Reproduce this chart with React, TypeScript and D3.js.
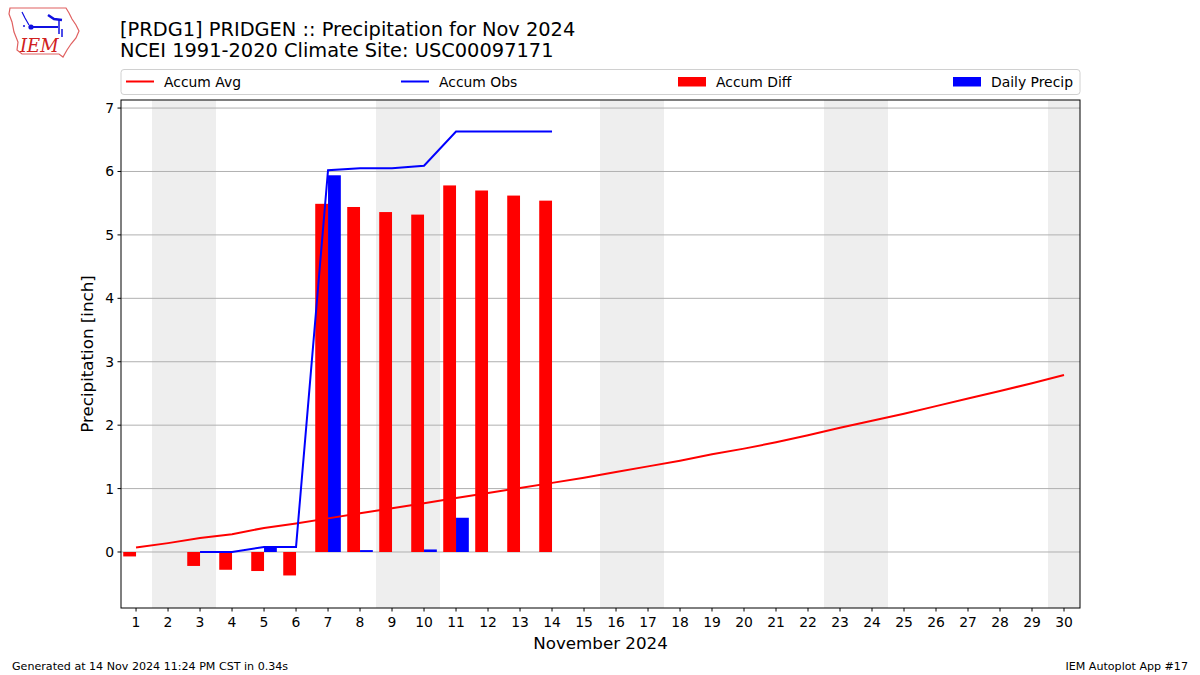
import React from "react";
import * as d3 from "d3";

const days: number[] = d3.range(1, 31);
const accumAvg: number[] = [0.07, 0.14, 0.22, 0.28, 0.38, 0.45, 0.53, 0.61, 0.69, 0.77, 0.85, 0.93, 1.01, 1.09, 1.17, 1.26, 1.35, 1.44, 1.54, 1.63, 1.73, 1.84, 1.96, 2.07, 2.18, 2.30, 2.42, 2.54, 2.66, 2.79];
const accumObs: (number | null)[] = [null, null, 0, 0, 0.08, 0.08, 6.02, 6.05, 6.05, 6.09, 6.63, 6.63, 6.63, 6.63];
const accumDiff: (number | null)[] = [-0.07, null, -0.22, -0.28, -0.30, -0.37, 5.49, 5.44, 5.36, 5.32, 5.78, 5.70, 5.62, 5.54];
const dailyPrecip: (number | null)[] = [null, null, 0, 0, 0.08, 0, 5.94, 0.03, 0, 0.04, 0.54, 0, 0, 0];
const weekendDays: number[] = [2, 3, 9, 10, 16, 17, 23, 24, 30];
const yTicks: number[] = [0, 1, 2, 3, 4, 5, 6, 7];

const W = 1200, H = 675;
const L = 121, R = 1080, T = 100, B = 608;
const FONT = "DejaVu Sans, sans-serif";

export default function App() {
  const x = d3.scaleLinear().domain([0.53, 30.5]).range([L, R]);
  const y = d3.scaleLinear().domain([-0.883, 7.127]).range([B, T]);
  const dayW = x(1) - x(0);
  const barW = dayW * 0.4;

  const avgLine = d3.line<number>().x((_, i) => x(days[i])).y((d) => y(d))(accumAvg) || "";
  const obsLine = d3
    .line<number | null>()
    .defined((d) => d !== null)
    .x((_, i) => x(days[i]))
    .y((d) => y(d as number))(accumObs) || "";

  const legendItems = [
    { label: "Accum Avg", kind: "line", color: "#ff0000", x0: 126 },
    { label: "Accum Obs", kind: "line", color: "#0000ff", x0: 401 },
    { label: "Accum Diff", kind: "rect", color: "#ff0000", x0: 678 },
    { label: "Daily Precip", kind: "rect", color: "#0000ff", x0: 953 },
  ];

  return (
    <svg width={W} height={H} style={{ position: "absolute", left: 0, top: 0, background: "#fff" }} fontFamily={FONT}>
      <rect x={0} y={0} width={W} height={H} fill="#fff" />
      {/* Logo */}
      <g>
        <path
          d="M10,8 L66,8 L69,13 L72,19 L76,25 L79,31 L76,38 L71,44 L67,50 L63,57 L59,54 L22,54 L17,50 L18,42 L14,32 L12,22 L9,14 Z"
          fill="none"
          stroke="#e06060"
          strokeWidth={1.2}
        />
        <line x1={31} y1={27} x2={58} y2={27} stroke="#1010e0" strokeWidth={2} />
        <circle cx={31} cy={27} r={2.6} fill="#1010e0" />
        <path d="M22,12 L25,18 L29,25" fill="none" stroke="#1010e0" strokeWidth={1.2} />
        <path d="M48,15 L54,19 L62,20" fill="none" stroke="#1010e0" strokeWidth={2.5} />
        <line x1={59} y1={20} x2={59} y2={34} stroke="#1010e0" strokeWidth={1.5} />
        <line x1={62} y1={29} x2={62} y2={37} stroke="#1010e0" strokeWidth={1.5} />
        <circle cx={24} cy={26} r={1} fill="#1010e0" />
        <text x={20} y={52} fontFamily="DejaVu Serif, serif" fontStyle="italic" fontSize={18} fill="#d02020">IEM</text>
      </g>

      {/* Titles */}
      <text x={120} y={36} fontSize={19.4} fill="#000">[PRDG1] PRIDGEN :: Precipitation for Nov 2024</text>
      <text x={120} y={57} fontSize={19.4} fill="#000">NCEI 1991-2020 Climate Site: USC00097171</text>

      {/* Legend */}
      <rect x={121} y={69.5} width={959} height={25} rx={3} fill="#fff" stroke="#d0d0d0" strokeWidth={1} />
      {legendItems.map((it) => (
        <g key={it.label}>
          {it.kind === "line" ? (
            <line x1={it.x0} y1={81.5} x2={it.x0 + 28} y2={81.5} stroke={it.color} strokeWidth={2} />
          ) : (
            <rect x={it.x0} y={77} width={28} height={9.5} fill={it.color} />
          )}
          <text x={it.x0 + 38} y={86.5} fontSize={13.9} fill="#000">{it.label}</text>
        </g>
      ))}

      {/* Weekend shading */}
      {weekendDays.map((d) => {
        const x0 = Math.max(L, x(d - 0.5));
        const x1 = Math.min(R, x(d + 0.5));
        return <rect key={d} x={x0} y={T} width={x1 - x0} height={B - T} fill="#eeeeee" />;
      })}

      {/* Grid */}
      {yTicks.map((t) => (
        <line key={t} x1={L} x2={R} y1={y(t)} y2={y(t)} stroke="#b0b0b0" strokeWidth={1} />
      ))}

      {/* Accum diff bars */}
      {accumDiff.map((v, i) =>
        v === null ? null : (
          <rect
            key={"d" + i}
            x={x(days[i]) - barW}
            y={Math.min(y(v), y(0))}
            width={barW}
            height={Math.abs(y(v) - y(0))}
            fill="#ff0000"
          />
        )
      )}
      {/* Daily precip bars */}
      {dailyPrecip.map((v, i) =>
        v === null || v === 0 ? null : (
          <rect
            key={"p" + i}
            x={x(days[i])}
            y={y(v)}
            width={barW}
            height={y(0) - y(v)}
            fill="#0000ff"
          />
        )
      )}

      {/* Lines */}
      <path d={avgLine} fill="none" stroke="#ff0000" strokeWidth={2} />
      <path d={obsLine} fill="none" stroke="#0000ff" strokeWidth={2} />

      {/* Frame */}
      <rect x={L} y={T} width={R - L} height={B - T} fill="none" stroke="#000" strokeWidth={1} />

      {/* Y ticks */}
      {yTicks.map((t) => (
        <g key={"yt" + t}>
          <line x1={L - 3.5} x2={L} y1={y(t)} y2={y(t)} stroke="#000" />
          <text x={L - 7} y={y(t) + 5} fontSize={13.9} textAnchor="end">{t}</text>
        </g>
      ))}
      {/* X ticks */}
      {days.map((d) => (
        <g key={"xt" + d}>
          <line x1={x(d)} x2={x(d)} y1={B} y2={B + 3.5} stroke="#000" />
          <text x={x(d)} y={B + 19} fontSize={13.9} textAnchor="middle">{d}</text>
        </g>
      ))}

      <text x={(L + R) / 2} y={649} fontSize={16.7} textAnchor="middle">November 2024</text>
      <text transform={`translate(93,${(T + B) / 2}) rotate(-90)`} fontSize={16.7} textAnchor="middle">Precipitation [inch]</text>

      <text x={12} y={670} fontSize={11.1}>Generated at 14 Nov 2024 11:24 PM CST in 0.34s</text>
      <text x={1188} y={670} fontSize={11.1} textAnchor="end">IEM Autoplot App #17</text>
    </svg>
  );
}
